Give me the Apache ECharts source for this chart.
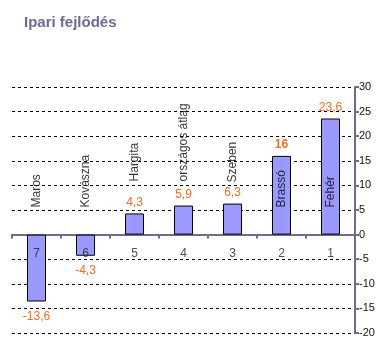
<!DOCTYPE html>
<html><head><meta charset="utf-8">
<script src="https://cdn.jsdelivr.net/npm/echarts@6/dist/echarts.min.js"></script>
<style>html,body{margin:0;padding:0;background:#fff}#c{width:385px;height:350px}</style>
</head><body><div id="c"></div>
<script>
var categories = ['7','6','5','4','3','2','1'];
var names = ['Maros','Kovászna','Hargita','országos átlag','Szeben','Brassó','Fehér'];
var values = [-13.6, -4.3, 4.3, 5.9, 6.3, 16, 23.6];
var nameAnchor = [5.5, 5.5, 10.8, 10.8, 10.6, 5.5, 5.5];
var yTicks = [-20,-15,-10,-5,0,5,10,15,20,25,30];

var chart = echarts.init(document.getElementById('c'));
function fmt(v){ return String(v).replace('.', ','); }
chart.setOption({
  animation: false,
  title: { text: 'Ipari fejlődés', left: 19, top: 10,
    textStyle: { fontFamily: 'Liberation Sans', fontSize: 15, fontWeight: 'bold', color: '#6B6B99' } },
  grid: { left: 12, right: 30, top: 87, bottom: 17, containLabel: false, outerBoundsMode: 'none' },
  xAxis: {
    type: 'category', data: categories,
    axisLine: { onZero: true, lineStyle: { color: '#6E6E88', width: 2 } },
    axisTick: { show: true, alignWithLabel: false, length: 4, inside: false, lineStyle: { color: '#6E6E88', width: 2 } },
    axisLabel: { show: false },
    splitLine: { show: false }
  },
  yAxis: {
    type: 'value', position: 'right', min: yTicks[0], max: yTicks[yTicks.length-1], interval: 5,
    axisLine: { show: true, lineStyle: { color: '#6E6E88', width: 2 } },
    axisTick: { show: true, length: 4, lineStyle: { color: '#6E6E88', width: 2 } },
    axisLabel: { color: '#111', fontFamily: 'Liberation Sans', fontSize: 11, margin: 4 },
    splitLine: { show: true, lineStyle: { color: '#000', type: [3,3], width: 1 } }
  },
  series: [{
    type: 'bar', data: values.map(function(v, i){
      var item = { value: v };
      item.label = { position: v < 0 ? 'bottom' : 'top', distance: v < 0 ? 9 : 5,
        fontWeight: v === 16 ? 'bold' : 'normal' };
      return item;
    }),
    barWidth: 19,
    itemStyle: { color: '#9999FF', borderColor: '#000', borderWidth: 1 },
    label: { show: true, color: '#F07020', fontFamily: 'Liberation Sans', fontSize: 12,
      formatter: function(p){ return fmt(p.value); } },
    z: 2
  }, {
    type: 'scatter', symbolSize: 0, silent: true,
    data: nameAnchor.map(function(v, i){ return [categories[i], v]; }),
    label: { show: true, position: 'inside', rotate: 90, align: 'left', verticalAlign: 'middle',
      color: '#000', fontFamily: 'Liberation Sans', fontSize: 12,
      formatter: function(p){ return names[p.dataIndex]; } },
    z: 5
  }, {
    type: 'scatter', symbolSize: 0, silent: true,
    data: categories.map(function(c){ return [c, 0]; }),
    label: { show: true, position: 'bottom', distance: 13,
      color: '#222', fontFamily: 'Liberation Sans', fontSize: 12,
      formatter: function(p){ return categories[p.dataIndex]; } },
    z: 5
  }]
});
</script></body></html>
